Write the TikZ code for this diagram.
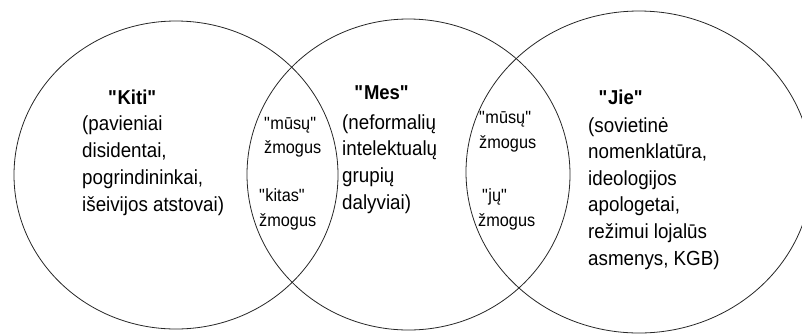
\documentclass[tikz,border=0pt]{standalone}
\usepackage{fontspec}
\setmainfont{Liberation Sans}[FakeStretch=0.92]
\usetikzlibrary{shapes.geometric}
\newcommand\dq{\textquotedbl}
\tikzset{
  ring/.style={draw=black!85, line width=0.8pt, ellipse, inner sep=0pt, fill=none},
  title/.style={inner sep=0pt, anchor=base, font=\fontsize{20.1}{24}\selectfont\bfseries},
  body/.style={inner sep=0pt, anchor=base west, font=\fontsize{20.4}{24}\selectfont},
  small/.style={inner sep=0pt, anchor=base west, font=\fontsize{17.7}{21}\selectfont},
}
\begin{document}
\begin{tikzpicture}[x=1pt,y=-1pt]
\useasboundingbox (0,0) rectangle (802,333);
% circles
\node[ring, minimum width=324pt, minimum height=308pt] (kiti) at (176,175) {};
\node[ring, minimum width=323pt, minimum height=311pt] (mes) at (408.5,174.5) {};
\node[ring, minimum width=346pt, minimum height=322pt] (jie) at (639,172) {};
% titles
\node[title] (kitiT) at (132.5,104) {\dq Kiti\dq};
\node[title] (mesT) at (382,99) {\dq Mes\dq};
\node[title] (jieT) at (621,104) {\dq Jie\dq};
% left body
\foreach \t [count=\i from 0] in {{(pavieniai},{disidentai,},{pogrindininkai,},{išeivijos atstovai)}}
  \node[body] (kitiL\i) at (82,130+27*\i) {\t};
% middle body
\foreach \t [count=\i from 0] in {{(neformalių},{intelektualų},{grupių},{dalyviai)}}
  \node[body] (mesL\i) at (342,129+26.7*\i) {\t};
% right body
\foreach \t [count=\i from 0] in {{(sovietinė},{nomenklatūra,},{ideologijos},{apologetai,},{režimui lojalūs},{asmenys, KGB)}}
  \node[body] (jieL\i) at (588,132+26.6*\i) {\t};
% lens labels
\node[small] (a1) at (264,129) {\dq mūsų\dq};
\node[small] (a2) at (264,153) {žmogus};
\node[small] (b1) at (259,201) {\dq kitas\dq};
\node[small] (b2) at (259,226) {žmogus};
\node[small] (c1) at (479,123) {\dq mūsų\dq};
\node[small] (c2) at (479,148) {žmogus};
\node[small] (d1) at (482,201) {\dq jų\dq};
\node[small] (d2) at (478,226) {žmogus};
\end{tikzpicture}
\end{document}
